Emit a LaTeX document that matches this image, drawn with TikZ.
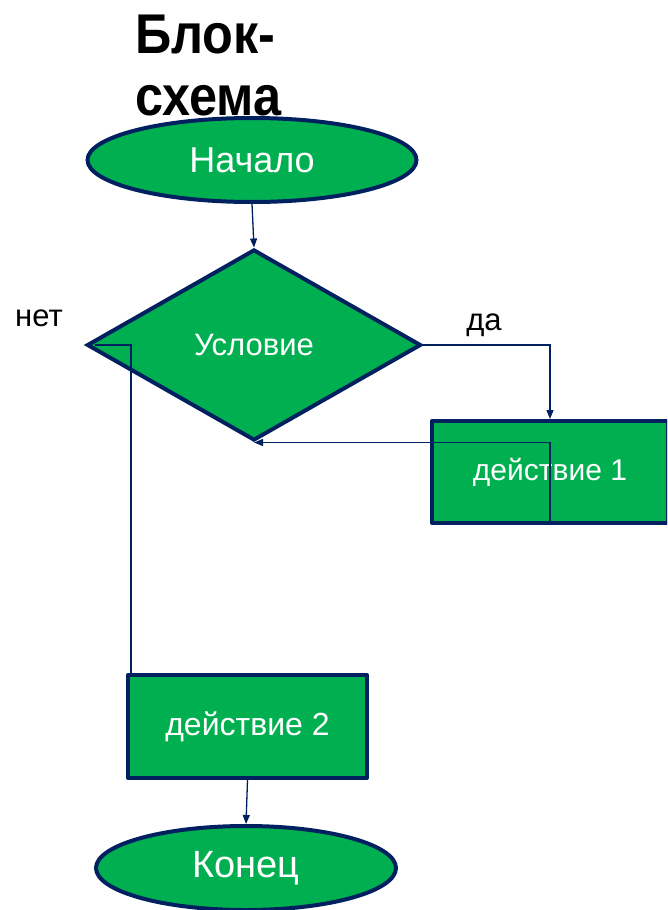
\documentclass[tikz,border=0pt]{standalone}
\usepackage{fontspec}
\setmainfont{Liberation Sans}
\newfontfamily\titlefont[FakeStretch=0.9]{Liberation Sans}
\usetikzlibrary{shapes.geometric,arrows.meta,calc}
\definecolor{bgreen}{HTML}{00B050}
\definecolor{bnavy}{HTML}{002060}
\begin{document}
\begin{tikzpicture}[x=1pt,y=-1pt,
  blk/.style={fill=bgreen,draw=bnavy,line width=4pt,text=white,inner sep=0pt},
  term/.style={blk,ellipse},
  decis/.style={blk,diamond,line join=miter},
  proc/.style={blk,rectangle,line join=round},
  conn/.style={draw=bnavy,line width=1.3pt},
  arr/.style={conn,-{Triangle[length=9pt,width=7pt]}},
  lbl/.style={text=black,inner sep=0pt,font=\fontsize{31}{34}\selectfont}]
\useasboundingbox (0,0) rectangle (667,910);
\clip (0,0) rectangle (667,910);
\node[anchor=base west,align=left,inner sep=0pt,font=\titlefont\bfseries\fontsize{56}{62}\selectfont] (title) at (135,115) {Блок-\\схема};
\node[term,minimum width=329pt,minimum height=84pt,font=\fontsize{36}{40}\selectfont] (start) at (252,160) {Начало};
\node[decis,minimum width=334pt,minimum height=191pt,font=\fontsize{31}{34}\selectfont] (cond) at (254,345) {Условие};
\node[proc,minimum width=236pt,minimum height=102pt,font=\fontsize{30}{32}\selectfont] (act1) at (550,472) {действие 1};
\node[proc,minimum width=239pt,minimum height=103pt,font=\fontsize{32}{34}\selectfont] (act2) at (247.5,726.5) {действие 2};
\node[term,minimum width=300pt,minimum height=84pt,font=\fontsize{38}{42}\selectfont] (end) at (246,868) {Конец};
\node[lbl] (no) at (39,318) {нет};
\node[lbl] (yes) at (484,325) {да};
\draw[arr] (start.south) -- (cond.north);
\draw[arr] (cond.east) -| (act1.north);
\draw[arr] (act1.south) |- (cond.south);
\coordinate (nostart) at ($(cond.west)+(10,0)$);
\coordinate (notop) at ($(act2.north west)+(5,0)$);
\draw[conn] (nostart) -| (notop);
\draw[arr] (act2.south) -- (end.north);
\end{tikzpicture}
\end{document}
